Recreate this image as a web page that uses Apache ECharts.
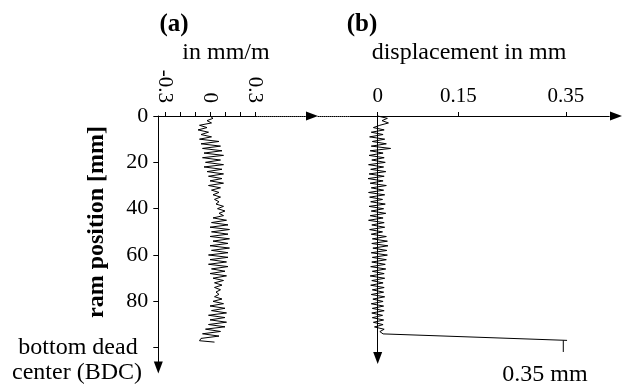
<!DOCTYPE html>
<html>
<head>
<meta charset="utf-8">
<script src="https://cdn.jsdelivr.net/npm/echarts@6/dist/echarts.min.js"></script>
<style>html,body{margin:0;padding:0;background:#fff}#c{width:623px;height:389px}</style>
</head>
<body>
<div id="c"></div>
<script>
// ---- data ----
var ramPosA = [0,1,2,3,4,5,6,7,8,9,10,11,12,13,14,15,16,17,18,19,20,21,22,23,24,25,26,27,28,29,30,31,32,33,34,35,36,37,38,39,40,41,42,43,44,45,46,47,48,49,50,51,52,53,54,55,56,57,58,59,60,61,62,63,64,65,66,67,68,69,70,71,72,73,74,75,76,77,78,79,80,81,82,83,84,85,86,87,88,89,90,91,92,93,94,95,96,97,97.6];
var strainA = [0.00,0.02,-0.02,0.01,-0.07,-0.02,-0.08,-0.01,-0.06,0.01,-0.07,
  0.06,-0.06,0.07,-0.05,0.08,-0.04,0.09,-0.05,0.07,-0.03,0.09,-0.04,0.08,-0.02,0.09,-0.01,0.08,0.00,0.09,-0.01,0.07,0.01,
  0.06,0.02,0.07,0.03,0.06,0.04,0.09,0.05,0.10,0.06,0.09,0.02,0.11,0.01,0.12,0.00,0.13,0.01,0.12,0.00,0.13,0.02,0.12,0.00,
  0.13,0.01,0.12,-0.01,0.12,0.00,0.11,-0.01,0.12,0.01,0.10,0.00,0.11,0.02,0.09,0.03,0.08,0.03,0.07,0.04,0.06,0.03,0.08,0.02,
  0.09,0.00,0.10,0.01,0.11,-0.01,0.10,0.00,0.11,-0.01,0.10,-0.03,0.07,-0.05,0.06,-0.06,-0.07,0.03];
var ramPosB = [0,1,2,3,4,5,6,7,8,9,10,11,12,13,14,15,16,17,18,19,20,21,22,23,24,25,26,27,28,29,30,31,32,33,34,35,36,37,38,39,40,41,42,43,44,45,46,47,48,49,50,51,52,53,54,55,56,57,58,59,60,61,62,63,64,65,66,67,68,69,70,71,72,73,74,75,76,77,78,79,80,81,82,83,84,85,86,87,88,89,90,91,92,93,94,94.8,96.8];
var displB = [0.000,0.018,0.008,0.020,0.004,-0.008,0.012,-0.012,0.010,-0.015,0.013,-0.010,0.016,-0.012,0.024,-0.014,0.010,-0.016,0.012,-0.011,
  0.014,-0.017,0.011,-0.013,0.015,-0.016,0.012,-0.018,0.010,-0.014,0.016,-0.012,0.011,-0.017,0.013,-0.015,0.009,-0.013,0.014,-0.016,
  0.011,-0.012,0.015,-0.014,0.010,-0.017,0.012,-0.011,0.013,-0.015,0.009,-0.012,0.016,-0.010,0.018,-0.011,0.019,-0.009,0.017,-0.012,
  0.018,-0.010,0.016,-0.011,0.014,-0.013,0.015,-0.010,0.012,-0.014,0.013,-0.011,0.010,-0.013,0.012,-0.010,0.011,-0.012,0.013,-0.009,
  0.010,-0.012,0.011,-0.010,0.012,-0.011,0.009,-0.010,0.011,-0.008,0.010,-0.006,0.012,0.004,0.010,0.008,0.352];
var bdcTickX = [0.345, 0.345];
var bdcTickY = [96.8, 101.8];
var ticksA = [-0.3,-0.2,-0.1,0,0.1,0.2,0.3];
var labelsA = [-0.3,0,0.3];
var ticksB = [0,0.15,0.35];
var ticksY = [0,20,40,60,80,100];
var labelsY = [0,20,40,60,80];

function pairs(xs, ys){ return xs.map(function(v,i){ return [v, ys[i]]; }); }

var FONT = '"Liberation Serif","Times New Roman",serif';
var chart = echarts.init(document.getElementById('c'), null, {renderer:'canvas'});
var lblX = {fontFamily:FONT, fontSize:21, color:'#000'};
var lblY = {fontFamily:FONT, fontSize:22, color:'#000'};

var option = {
  animation:false,
  backgroundColor:'#fff',
  grid:[
    {left:158.3, top:116, width:153.7, height:251.6},
    {left:318, top:116, width:298, height:242}
  ],
  xAxis:[
    {gridIndex:0, type:'value', position:'top', min:-0.3447, max:0.68,
     axisLine:{show:true, onZero:false, symbol:['none','triangle'], symbolSize:[9,12], lineStyle:{color:'#000', width:1, type:[1,1]}},
     axisTick:{show:true, length:4, customValues:ticksA, lineStyle:{color:'#000'}},
     axisLabel:Object.assign({rotate:90, margin:13, customValues:labelsA, formatter:function(v){return String(v);}}, lblX),
     splitLine:{show:false}},
    {gridIndex:1, type:'value', position:'top', min:-0.111, max:0.443,
     axisLine:{show:true, onZero:false, symbol:['none','triangle'], symbolSize:[9,12], lineStyle:{color:'#000', width:1, type:[1,1]}},
     axisTick:{show:true, length:4, customValues:ticksB, lineStyle:{color:'#000'}},
     axisLabel:Object.assign({margin:9, customValues:ticksB, formatter:function(v){return String(v);}}, lblX),
     splitLine:{show:false}}
  ],
  yAxis:[
    {gridIndex:0, type:'value', inverse:true, min:0, max:108.6,
     axisLine:{show:true, onZero:false, symbol:['triangle','none'], symbolSize:[9,12], lineStyle:{color:'#000', width:1}},
     axisTick:{show:true, length:5, customValues:ticksY, lineStyle:{color:'#000'}},
     axisLabel:Object.assign({margin:10, customValues:labelsY}, lblY),
     splitLine:{show:false}},
    {gridIndex:1, type:'value', inverse:true, min:0, max:104.4,
     axisLine:{show:true, onZero:true, symbol:['triangle','none'], symbolSize:[9,12], lineStyle:{color:'#000', width:1}},
     axisTick:{show:false}, axisLabel:{show:false}, splitLine:{show:false}}
  ],
  series:[
    {type:'line', xAxisIndex:0, yAxisIndex:0, data:pairs(strainA, ramPosA), symbol:'none', clip:false,
     lineStyle:{color:'#000', width:1},
     markLine:{silent:true, symbol:'none', label:{show:false}, lineStyle:{color:'#000', width:1, type:'solid'},
       data:[[{coord:[-0.3447,0]},{coord:[0.31,0]}]]}},
    {type:'line', xAxisIndex:1, yAxisIndex:1, data:pairs(displB, ramPosB), symbol:'none', clip:false,
     lineStyle:{color:'#000', width:1},
     markLine:{silent:true, symbol:'none', label:{show:false}, lineStyle:{color:'#000', width:1, type:'solid'},
       data:[[{coord:[-0.05,0]},{coord:[0.43,0]}]]}},
    {type:'line', xAxisIndex:1, yAxisIndex:1, data:pairs(bdcTickX, bdcTickY), symbol:'none', clip:false,
     lineStyle:{color:'#000', width:1}}
  ],
  graphic:[
    {type:'text', x:174, y:25, style:{text:'(a)', fontFamily:FONT, fontSize:25, fontWeight:'bold', fill:'#000', align:'center', verticalAlign:'middle'}},
    {type:'text', x:362, y:25, style:{text:'(b)', fontFamily:FONT, fontSize:25, fontWeight:'bold', fill:'#000', align:'center', verticalAlign:'middle'}},
    {type:'text', x:226, y:53, style:{text:'in mm/m', fontFamily:FONT, fontSize:24, fill:'#000', align:'center', verticalAlign:'middle'}},
    {type:'text', x:469, y:53, style:{text:'displacement in mm', fontFamily:FONT, fontSize:24, fill:'#000', align:'center', verticalAlign:'middle'}},
    {type:'text', x:97, y:222, rotation:Math.PI/2, style:{text:'ram position [mm]', fontFamily:FONT, fontSize:24, fontWeight:'bold', fill:'#000', align:'center', verticalAlign:'middle'}},
    {type:'text', x:78, y:348, style:{text:'bottom dead', fontFamily:FONT, fontSize:24, fill:'#000', align:'center', verticalAlign:'middle'}},
    {type:'text', x:77, y:373, style:{text:'center (BDC)', fontFamily:FONT, fontSize:24, fill:'#000', align:'center', verticalAlign:'middle'}},
    {type:'text', x:545, y:375, style:{text:'0.35 mm', fontFamily:FONT, fontSize:24, fill:'#000', align:'center', verticalAlign:'middle'}}
  ]
};
chart.setOption(option);
</script>
</body>
</html>
